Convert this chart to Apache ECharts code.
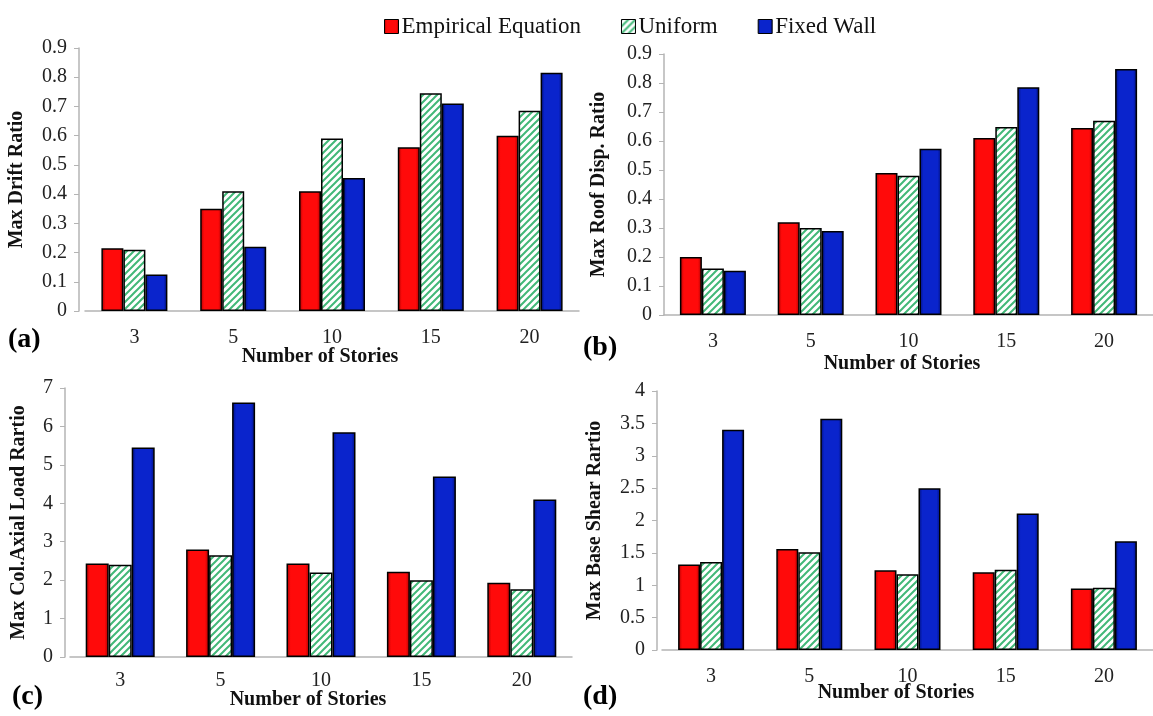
<!DOCTYPE html>
<html>
<head>
<meta charset="utf-8">
<script src="https://cdn.jsdelivr.net/npm/echarts@6/dist/echarts.min.js"></script>
<style>
html,body{margin:0;padding:0;background:#fff;}
#chart{width:1153px;height:716px;}
</style>
</head>
<body>
<div id="chart"></div>
<script>
// ---------- data ----------
const categories = ['3', '5', '10', '15', '20'];
const seriesNames = ['Empirical Equation', 'Uniform', 'Fixed Wall'];

const driftEmpirical = [0.215, 0.35, 0.41, 0.56, 0.60];
const driftUniform   = [0.21, 0.41, 0.59, 0.745, 0.685];
const driftFixed     = [0.125, 0.22, 0.455, 0.71, 0.815];

const roofEmpirical = [0.20, 0.32, 0.49, 0.61, 0.645];
const roofUniform   = [0.16, 0.30, 0.48, 0.648, 0.67];
const roofFixed     = [0.153, 0.29, 0.573, 0.785, 0.848];

const axialEmpirical = [2.43, 2.80, 2.43, 2.22, 1.93];
const axialUniform   = [2.40, 2.65, 2.20, 2.00, 1.76];
const axialFixed     = [5.45, 6.62, 5.85, 4.70, 4.10];

const shearEmpirical = [1.32, 1.56, 1.23, 1.20, 0.95];
const shearUniform   = [1.36, 1.51, 1.17, 1.24, 0.96];
const shearFixed     = [3.40, 3.57, 2.50, 2.11, 1.68];

const yTitles = ['Max Drift Ratio', 'Max Roof Disp. Ratio', 'Max Col.Axial Load Rartio', 'Max Base Shear Rartio'];
const xTitle = 'Number of Stories';
const panelLetters = ['(a)', '(b)', '(c)', '(d)'];
const yMax = [0.9, 0.9, 7, 4];
const yInterval = [0.1, 0.1, 1, 0.5];

// ---------- styles ----------
const FONT = 'Liberation Serif';
function hatch() {
  const s = 7;
  const c = document.createElement('canvas');
  c.width = s; c.height = s;
  const g = c.getContext('2d');
  g.fillStyle = '#ffffff'; g.fillRect(0, 0, s, s);
  g.strokeStyle = '#42b878'; g.lineWidth = 2;
  g.beginPath();
  g.moveTo(-1, s + 1); g.lineTo(s + 1, -1);
  g.moveTo(-s - 1, s + 1); g.lineTo(1, -1);
  g.moveTo(-1, 2 * s + 1); g.lineTo(2 * s + 1, -1);
  g.stroke();
  return c;
}
const hatchCanvas = hatch();
function hgrad(edge, mid) {
  return {type: 'linear', x: 0, y: 0, x2: 1, y2: 0, colorStops: [
    {offset: 0, color: edge}, {offset: 0.18, color: mid},
    {offset: 0.82, color: mid}, {offset: 1, color: edge}]};
}
const colors = [
  hgrad('#a80000', '#ff0a0a'),
  {image: hatchCanvas, repeat: 'repeat'},
  hgrad('#00107a', '#0a24cc')
];

const grids = [
  {left: 85, top: 48, width: 494, height: 263},
  {left: 664, top: 54, width: 495, height: 261},
  {left: 70, top: 388, width: 502, height: 269},
  {left: 662, top: 391, width: 497, height: 259}
];
const yOffsets = [6, 0, 5, 5];
const yNameGaps = [52, 55, 36, 52];
const xLabelMargins = [17, 17, 14, 17];
const barWidths = [22, 22, 23, 22];
const panelData = [
  [driftEmpirical, driftUniform, driftFixed],
  [roofEmpirical, roofUniform, roofFixed],
  [axialEmpirical, axialUniform, axialFixed],
  [shearEmpirical, shearUniform, shearFixed]
];

const xAxes = grids.map((g, i) => ({
  type: 'category', gridIndex: i, data: categories,
  axisLine: {lineStyle: {color: '#b4b4b4', width: 1.5}},
  axisTick: {show: false},
  axisLabel: {fontFamily: FONT, fontSize: 20, color: '#222', margin: xLabelMargins[i]}
}));
const yAxes = grids.map((g, i) => ({
  type: 'value', gridIndex: i, min: 0, max: yMax[i], interval: yInterval[i],
  offset: yOffsets[i],
  name: yTitles[i], nameLocation: 'middle', nameGap: yNameGaps[i],
  nameTextStyle: {fontFamily: FONT, fontSize: 20, fontWeight: 'bold', color: '#111'},
  axisLine: {show: true, lineStyle: {color: '#b4b4b4', width: 1.5}},
  axisTick: {show: true, length: 5, lineStyle: {color: '#b4b4b4'}},
  splitLine: {show: false},
  axisLabel: {fontFamily: FONT, fontSize: 20, color: '#222', margin: 12,
    formatter: v => String(Math.round(v * 10) / 10)}
}));

const series = [];
panelData.forEach((arrs, i) => {
  arrs.forEach((d, k) => {
    series.push({
      type: 'bar', name: seriesNames[k], xAxisIndex: i, yAxisIndex: i,
      data: d, barWidth: barWidths[i], barGap: '0%',
      itemStyle: {color: colors[k], borderColor: '#000', borderWidth: 1.5},
      emphasis: {disabled: true}
    });
  });
});

const xTitlePos = [[320, 357], [902, 364], [308, 700], [896, 693]];
const letterPos = [[8, 340], [583, 348], [12, 697], [583, 697]];
const graphic = [];
xTitlePos.forEach(p => graphic.push({
  type: 'text', x: p[0], y: p[1],
  style: {text: xTitle, font: 'bold 20px "Liberation Serif"', fill: '#111',
    textAlign: 'center', textVerticalAlign: 'middle'}
}));
letterPos.forEach((p, i) => graphic.push({
  type: 'text', x: p[0], y: p[1],
  style: {text: panelLetters[i], font: 'bold 28px "Liberation Serif"', fill: '#000',
    textAlign: 'left', textVerticalAlign: 'middle'}
}));

const chart = echarts.init(document.getElementById('chart'), null, {renderer: 'canvas'});
chart.setOption({
  animation: false,
  backgroundColor: '#fff',
  legend: {
    data: seriesNames, left: 379, top: 10, itemWidth: 14, itemHeight: 14,
    itemGap: 40, icon: 'rect',
    itemStyle: {borderColor: '#000', borderWidth: 1},
    textStyle: {fontFamily: FONT, fontSize: 23, color: '#111', padding: [0, 0, 0, -2]}
  },
  grid: grids,
  xAxis: xAxes,
  yAxis: yAxes,
  series: series,
  graphic: graphic
});
</script>
</body>
</html>
